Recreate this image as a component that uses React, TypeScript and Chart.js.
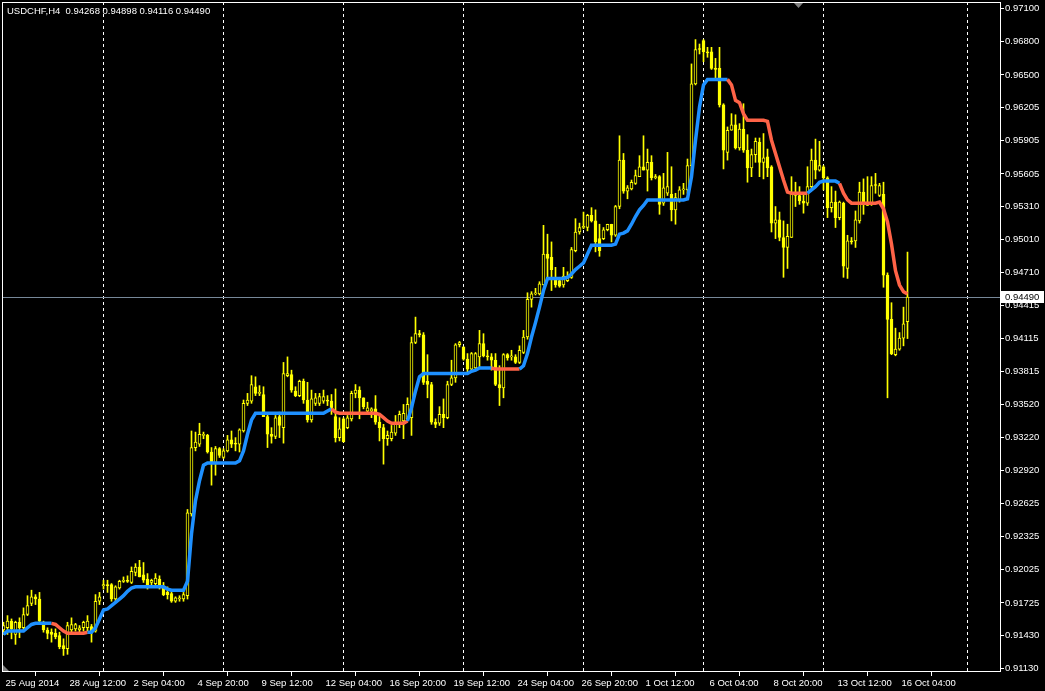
import React, { useEffect, useRef } from 'react';
import { Chart, registerables } from 'chart.js';

Chart.register(...registerables);

// ---- DATA (USDCHF H4, one value per bar) ----
const openP = [
  0.9148,0.9150,0.9156,0.9144,0.9155,0.9150,0.9162,0.9172,0.9178,0.9176,
  0.9153,0.9148,0.9146,0.9145,0.9143,0.9134,0.9131,0.9148,0.9149,0.9148,
  0.9150,0.9150,0.9151,0.9147,0.9174,0.9188,0.9189,0.9189,0.9176,0.9186,
  0.9192,0.9193,0.9191,0.9200,0.9205,0.9198,0.9194,0.9191,0.9190,0.9194,
  0.9187,0.9182,0.9181,0.9174,0.9176,0.9176,0.9179,0.9253,0.9313,0.9316,
  0.9324,0.9324,0.9309,0.9299,0.9312,0.9304,0.9310,0.9320,0.9316,0.9316,
  0.9328,0.9353,0.9355,0.9368,0.9362,0.9361,0.9341,0.9325,0.9323,0.9341,
  0.9331,0.9378,0.9379,0.9364,0.9360,0.9373,0.9356,0.9338,0.9353,0.9353,
  0.9355,0.9356,0.9355,0.9341,0.9322,0.9339,0.9331,0.9339,0.9362,0.9365,
  0.9358,0.9346,0.9346,0.9348,0.9336,0.9331,0.9321,0.9321,0.9326,0.9334,
  0.9337,0.9339,0.9340,0.9408,0.9416,0.9415,0.9373,0.9370,0.9336,0.9335,
  0.9343,0.9340,0.9370,0.9376,0.9406,0.9404,0.9393,0.9384,0.9385,0.9395,
  0.9407,0.9396,0.9395,0.9392,0.9370,0.9367,0.9397,0.9395,0.9395,0.9390,
  0.9399,0.9413,0.9447,0.9452,0.9452,0.9460,0.9488,0.9485,0.9467,0.9464,
  0.9460,0.9464,0.9467,0.9491,0.9508,0.9512,0.9512,0.9523,0.9518,0.9502,
  0.9502,0.9510,0.9515,0.9505,0.9531,0.9573,0.9545,0.9547,0.9552,0.9558,
  0.9567,0.9564,0.9571,0.9557,0.9558,0.9534,0.9543,0.9542,0.9528,0.9537,
  0.9546,0.9546,0.9568,0.9642,0.9673,0.9681,0.9671,0.9671,0.9656,0.9656,
  0.9623,0.9580,0.9600,0.9605,0.9584,0.9601,0.9582,0.9566,0.9578,0.9589,
  0.9571,0.9576,0.9567,0.9516,0.9519,0.9503,0.9494,0.9503,0.9541,0.9541,
  0.9536,0.9534,0.9549,0.9573,0.9564,0.9567,0.9557,0.9530,0.9535,0.9521,
  0.9534,0.9475,0.9500,0.9500,0.9518,0.9544,0.9532,0.9534,0.9550,0.9541,
  0.9542,0.9469,0.9429,0.9397,0.9402,0.9412,0.94268,
];

const highP = [
  0.9155,0.9161,0.9158,0.9156,0.9159,0.9168,0.9179,0.9184,0.9180,0.9182,
  0.9156,0.9150,0.9149,0.9149,0.9146,0.9140,0.9155,0.9159,0.9154,0.9152,
  0.9156,0.9161,0.9153,0.9180,0.9182,0.9193,0.9193,0.9190,0.9188,0.9193,
  0.9196,0.9197,0.9205,0.9208,0.9211,0.9209,0.9199,0.9194,0.9199,0.9197,
  0.9191,0.9187,0.9184,0.9178,0.9179,0.9182,0.9257,0.9328,0.9327,0.9335,
  0.9327,0.9325,0.9313,0.9314,0.9313,0.9312,0.9324,0.9328,0.9322,0.9330,
  0.9356,0.9362,0.9378,0.9377,0.9369,0.9368,0.9344,0.9331,0.9342,0.9345,
  0.9390,0.9395,0.9383,0.9368,0.9374,0.9375,0.9372,0.9365,0.9362,0.9362,
  0.9365,0.9360,0.9361,0.9366,0.9340,0.9340,0.9342,0.9364,0.9370,0.9368,
  0.9358,0.9354,0.9349,0.9360,0.9342,0.9334,0.9328,0.9333,0.9342,0.9346,
  0.9352,0.9358,0.9413,0.9431,0.9419,0.9417,0.9397,0.9372,0.9339,0.9350,
  0.9357,0.9373,0.9392,0.9407,0.9409,0.9404,0.9398,0.9399,0.9399,0.9419,
  0.9416,0.9401,0.9398,0.9398,0.9387,0.9398,0.9398,0.9401,0.9397,0.9405,
  0.9419,0.9453,0.9454,0.9457,0.9463,0.9514,0.9506,0.9499,0.9476,0.9467,
  0.9476,0.9472,0.9494,0.9520,0.9516,0.9526,0.9524,0.9530,0.9528,0.9515,
  0.9512,0.9515,0.9515,0.9532,0.9595,0.9579,0.9550,0.9555,0.9564,0.9577,
  0.9595,0.9583,0.9577,0.9560,0.9559,0.9561,0.9580,0.9567,0.9543,0.9549,
  0.9552,0.9574,0.9660,0.9682,0.9678,0.9682,0.9675,0.9675,0.9665,0.9675,
  0.9624,0.9603,0.9615,0.9614,0.9606,0.9624,0.9596,0.9583,0.9593,0.9593,
  0.9597,0.9583,0.9568,0.9531,0.9526,0.9518,0.9515,0.9558,0.9553,0.9549,
  0.9543,0.9567,0.9583,0.9592,0.9590,0.9568,0.9558,0.9549,0.9545,0.9536,
  0.9535,0.9505,0.9503,0.9527,0.9553,0.9556,0.9558,0.9558,0.9561,0.9552,
  0.9553,0.9471,0.9444,0.9421,0.9417,0.9440,0.94898,
];

const lowP = [
  0.9144,0.9144,0.9140,0.9135,0.9141,0.9147,0.9161,0.9170,0.9171,0.9155,
  0.9146,0.9140,0.9137,0.9140,0.9131,0.9125,0.9126,0.9146,0.9147,0.9146,
  0.9147,0.9147,0.9137,0.9146,0.9171,0.9185,0.9182,0.9174,0.9174,0.9185,
  0.9191,0.9191,0.9190,0.9197,0.9196,0.9191,0.9185,0.9187,0.9188,0.9185,
  0.9179,0.9176,0.9173,0.9173,0.9174,0.9174,0.9176,0.9251,0.9310,0.9314,
  0.9321,0.9308,0.9279,0.9288,0.9304,0.9303,0.9309,0.9313,0.9310,0.9309,
  0.9327,0.9351,0.9353,0.9360,0.9360,0.9341,0.9313,0.9317,0.9321,0.9322,
  0.9317,0.9377,0.9363,0.9359,0.9359,0.9353,0.9336,0.9336,0.9351,0.9351,
  0.9353,0.9351,0.9343,0.9318,0.9319,0.9318,0.9330,0.9337,0.9358,0.9339,
  0.9348,0.9344,0.9340,0.9334,0.9319,0.9298,0.9315,0.9319,0.9324,0.9331,
  0.9321,0.9337,0.9324,0.9407,0.9413,0.9370,0.9358,0.9334,0.9331,0.9333,
  0.9331,0.9339,0.9369,0.9372,0.9404,0.9392,0.9381,0.9382,0.9384,0.9386,
  0.9395,0.9392,0.9383,0.9369,0.9351,0.9358,0.9392,0.9392,0.9389,0.9389,
  0.9398,0.9411,0.9440,0.9451,0.9451,0.9460,0.9467,0.9455,0.9458,0.9458,
  0.9458,0.9463,0.9466,0.9490,0.9506,0.9511,0.9509,0.9517,0.9490,0.9486,
  0.9501,0.9509,0.9499,0.9504,0.9529,0.9543,0.9538,0.9546,0.9551,0.9558,
  0.9564,0.9545,0.9555,0.9556,0.9524,0.9532,0.9541,0.9518,0.9515,0.9535,
  0.9542,0.9543,0.9558,0.9641,0.9669,0.9662,0.9666,0.9655,0.9647,0.9621,
  0.9565,0.9573,0.9600,0.9583,0.9582,0.9580,0.9553,0.9558,0.9571,0.9558,
  0.9556,0.9558,0.9508,0.9502,0.9500,0.9467,0.9475,0.9503,0.9531,0.9533,
  0.9525,0.9532,0.9546,0.9556,0.9563,0.9546,0.9521,0.9526,0.9512,0.9519,
  0.9467,0.9466,0.9497,0.9494,0.9516,0.9524,0.9532,0.9532,0.9543,0.9540,
  0.9458,0.9358,0.9397,0.9396,0.9401,0.9405,0.94116,
];

const closeP = [
  0.9152,0.9156,0.9149,0.9155,0.9150,0.9162,0.9170,0.9178,0.9176,0.9156,
  0.9148,0.9145,0.9144,0.9142,0.9133,0.9131,0.9152,0.9153,0.9153,0.9150,
  0.9155,0.9156,0.9147,0.9174,0.9178,0.9189,0.9188,0.9176,0.9187,0.9192,
  0.9193,0.9192,0.9201,0.9205,0.9196,0.9193,0.9187,0.9193,0.9195,0.9187,
  0.9180,0.9180,0.9174,0.9177,0.9177,0.9180,0.9254,0.9313,0.9318,0.9325,
  0.9325,0.9309,0.9299,0.9312,0.9306,0.9310,0.9320,0.9316,0.9316,0.9329,
  0.9353,0.9356,0.9370,0.9362,0.9363,0.9341,0.9325,0.9323,0.9340,0.9333,
  0.9380,0.9380,0.9365,0.9360,0.9373,0.9356,0.9338,0.9357,0.9358,0.9359,
  0.9359,0.9355,0.9349,0.9322,0.9330,0.9318,0.9340,0.9362,0.9365,0.9358,
  0.9350,0.9349,0.9348,0.9336,0.9331,0.9321,0.9324,0.9327,0.9334,0.9343,
  0.9344,0.9352,0.9408,0.9416,0.9415,0.9372,0.9370,0.9336,0.9334,0.9343,
  0.9340,0.9370,0.9376,0.9406,0.9408,0.9393,0.9384,0.9398,0.9398,0.9407,
  0.9396,0.9395,0.9392,0.9370,0.9367,0.9397,0.9394,0.9396,0.9390,0.9401,
  0.9413,0.9447,0.9452,0.9453,0.9461,0.9488,0.9484,0.9474,0.9460,0.9459,
  0.9468,0.9467,0.9492,0.9508,0.9512,0.9513,0.9523,0.9518,0.9499,0.9491,
  0.9510,0.9515,0.9505,0.9531,0.9573,0.9545,0.9548,0.9553,0.9559,0.9567,
  0.9564,0.9571,0.9557,0.9558,0.9533,0.9548,0.9549,0.9528,0.9539,0.9546,
  0.9547,0.9568,0.9642,0.9673,0.9673,0.9671,0.9670,0.9656,0.9655,0.9623,
  0.9582,0.9600,0.9605,0.9584,0.9601,0.9582,0.9566,0.9578,0.9590,0.9571,
  0.9575,0.9566,0.9516,0.9519,0.9503,0.9494,0.9504,0.9543,0.9544,0.9536,
  0.9534,0.9549,0.9573,0.9564,0.9568,0.9557,0.9530,0.9535,0.9521,0.9535,
  0.9477,0.9500,0.9499,0.9519,0.9544,0.9534,0.9535,0.9550,0.9550,0.9550,
  0.9469,0.9429,0.9398,0.9402,0.9412,0.9425,0.94490,
];

const trendLine = [
  0.9144,0.9147,0.9147,0.9147,0.9147,0.9147,0.9150,0.9153,0.9154,0.9154,
  0.9154,0.9154,0.9154,0.9153,0.9150,0.9147,0.9145,0.9145,0.9145,0.9145,
  0.9145,0.9146,0.9146,0.9150,0.9158,0.9166,0.9167,0.9170,0.9173,0.9176,
  0.9179,0.9183,0.9186,0.9187,0.9187,0.9187,0.9187,0.9187,0.9187,0.9187,
  0.9187,0.9185,0.9184,0.9184,0.9184,0.9184,0.9192,0.9235,0.9265,0.9283,
  0.9297,0.9299,0.9299,0.9299,0.9299,0.9299,0.9299,0.9299,0.9299,0.9301,
  0.9310,0.9325,0.9338,0.9344,0.9344,0.9344,0.9344,0.9344,0.9344,0.9344,
  0.9344,0.9344,0.9344,0.9344,0.9344,0.9344,0.9344,0.9344,0.9344,0.9344,
  0.9344,0.9346,0.9348,0.9345,0.9344,0.9344,0.9344,0.9344,0.9344,0.9344,
  0.9344,0.9344,0.9344,0.9344,0.9343,0.9340,0.9337,0.9335,0.9335,0.9335,
  0.9335,0.9337,0.9349,0.9364,0.9377,0.9380,0.9380,0.9380,0.9380,0.9380,
  0.9380,0.9380,0.9380,0.9380,0.9380,0.9380,0.9380,0.9382,0.9383,0.9385,
  0.9385,0.9385,0.9385,0.9384,0.9384,0.9384,0.9384,0.9384,0.9384,0.9384,
  0.9387,0.9398,0.9413,0.9426,0.9440,0.9455,0.9466,0.9466,0.9466,0.9466,
  0.9466,0.9467,0.9470,0.9474,0.9477,0.9480,0.9488,0.9496,0.9496,0.9496,
  0.9496,0.9496,0.9496,0.9497,0.9506,0.9507,0.9509,0.9515,0.9522,0.9528,
  0.9532,0.9537,0.9537,0.9537,0.9537,0.9537,0.9537,0.9537,0.9537,0.9537,
  0.9537,0.9538,0.9558,0.9591,0.9621,0.9641,0.9646,0.9646,0.9646,0.9646,
  0.9646,0.9646,0.9641,0.9627,0.9625,0.9615,0.9609,0.9609,0.9609,0.9609,
  0.9609,0.9608,0.9591,0.9579,0.9567,0.9555,0.9544,0.9543,0.9543,0.9543,
  0.9543,0.9543,0.9546,0.9549,0.9553,0.9554,0.9554,0.9554,0.9554,0.9552,
  0.9543,0.9537,0.9534,0.9534,0.9534,0.9534,0.9534,0.9534,0.9534,0.9535,
  0.9529,0.9517,0.9497,0.9473,0.9460,0.9454,0.9452,
];

// bar ranges (segment start index) where the line is drawn in the "down" colour
const downRanges = [[12, 20], [82, 100], [122, 128], [181, 200], [209, 225]];

const xTickIdx = [0, 16, 32, 48, 64, 80, 96, 112, 128, 144, 160, 176, 192, 208, 224];
const xTickLabels = [
  '25 Aug 2014', '28 Aug 12:00', '2 Sep 04:00', '4 Sep 20:00', '9 Sep 12:00',
  '12 Sep 04:00', '16 Sep 20:00', '19 Sep 12:00', '24 Sep 04:00', '26 Sep 20:00',
  '1 Oct 12:00', '6 Oct 04:00', '8 Oct 20:00', '13 Oct 12:00', '16 Oct 04:00',
];
const weekSeparatorIdx = [25, 55, 85, 115, 145, 175, 205, 241];
const yTicks = [
  0.971, 0.968, 0.965, 0.96205, 0.95905, 0.95605, 0.9531, 0.9501, 0.9471, 0.94415,
  0.94115, 0.93815, 0.9352, 0.9322, 0.9292, 0.92625, 0.92325, 0.92025, 0.91725, 0.9143, 0.9113,
];
const bidPrice = 0.9449;
const titleText = 'USDCHF,H4  0.94268 0.94898 0.94116 0.94490';

// ---- STYLE ----
const YELLOW = '#FFFF00';
const BLUE = '#1E90FF';
const RED = '#FF6347';
const FONT_FAMILY = "'Liberation Sans', Arial, sans-serif";
const FONT_SIZE = 9.5;

function isDown(i: number) {
  return downRanges.some(([a, b]) => i >= a && i <= b);
}

const mt4Plugin = {
  id: 'mt4Decor',
  beforeDraw(chart: any) {
    const { ctx, width, height } = chart;
    ctx.save();
    ctx.fillStyle = '#000';
    ctx.fillRect(0, 0, width, height);
    ctx.restore();
  },
  beforeDatasetsDraw(chart: any) {
    const { ctx, chartArea: a, scales } = chart;
    const x = scales.x;
    const y = scales.y;
    ctx.save();
    ctx.strokeStyle = '#FFFFFF';
    ctx.lineWidth = 1;
    ctx.setLineDash([3, 3]);
    weekSeparatorIdx.forEach((v) => {
      const px = Math.floor(x.getPixelForValue(v)) + 0.5;
      ctx.beginPath();
      ctx.moveTo(px, a.top);
      ctx.lineTo(px, a.bottom);
      ctx.stroke();
    });
    ctx.setLineDash([]);
    const by = Math.round(y.getPixelForValue(bidPrice)) + 0.5;
    ctx.strokeStyle = '#778899';
    ctx.beginPath();
    ctx.moveTo(a.left, by);
    ctx.lineTo(a.right, by);
    ctx.stroke();
    ctx.restore();
  },
  afterDraw(chart: any) {
    const { ctx, chartArea: a, scales } = chart;
    const y = scales.y;
    ctx.save();
    // frame
    ctx.strokeStyle = '#FFFFFF';
    ctx.lineWidth = 1;
    ctx.strokeRect(a.left + 0.5, a.top + 0.5, a.right - a.left, a.bottom - a.top - 1);
    // title
    ctx.font = `${FONT_SIZE}px ${FONT_FAMILY}`;
    ctx.fillStyle = '#FFFFFF';
    ctx.textBaseline = 'middle';
    ctx.textAlign = 'left';
    ctx.fillText(titleText, 7, 11);
    // bid price label
    const by = Math.round(y.getPixelForValue(bidPrice));
    ctx.fillStyle = '#FFFFFF';
    ctx.fillRect(a.right + 1, by - 6, 43, 12);
    ctx.fillStyle = '#000000';
    ctx.fillText(bidPrice.toFixed(5), a.right + 5, by + 0.5);
    // shift marker and scroll marker
    ctx.fillStyle = '#808080';
    ctx.beginPath();
    ctx.moveTo(794, a.top + 1);
    ctx.lineTo(803, a.top + 1);
    ctx.lineTo(798.5, a.top + 6);
    ctx.closePath();
    ctx.fill();
    ctx.beginPath();
    ctx.moveTo(a.left + 1, a.bottom - 7);
    ctx.lineTo(a.left + 1, a.bottom - 1);
    ctx.lineTo(a.left + 7, a.bottom - 1);
    ctx.closePath();
    ctx.fill();
    ctx.restore();
  },
};

export default function App() {
  const ref = useRef<HTMLCanvasElement>(null);

  useEffect(() => {
    document.body.style.margin = '0';
    document.body.style.background = '#000';
    const idx = closeP.map((_, i) => i);
    const bodies = idx.map((i) => ({ x: i, y: [openP[i], closeP[i]] }));
    const wicks = idx.map((i) => ({ x: i, y: [lowP[i], highP[i]] }));
    const line = idx.map((i) => ({ x: i, y: trendLine[i] }));
    const font = { family: FONT_FAMILY, size: FONT_SIZE };

    const chart = new Chart(ref.current as HTMLCanvasElement, {
      type: 'bar',
      data: {
        datasets: [
          {
            type: 'line',
            data: line,
            order: 0,
            borderColor: BLUE,
            borderWidth: 3.5,
            pointRadius: 0,
            tension: 0,
            segment: {
              borderColor: (c: any) => (isDown(c.p0DataIndex) ? RED : BLUE),
            },
          } as any,
          {
            type: 'bar',
            data: bodies,
            order: 1,
            grouped: false,
            barThickness: 3,
            borderWidth: 1,
            borderSkipped: false,
            minBarLength: 1,
            borderColor: YELLOW,
            backgroundColor: (c: any) =>
              closeP[c.dataIndex] > openP[c.dataIndex] ? '#000000' : YELLOW,
          } as any,
          {
            type: 'bar',
            data: wicks,
            order: 2,
            grouped: false,
            barThickness: 1,
            borderWidth: 0,
            backgroundColor: YELLOW,
          } as any,
        ],
      },
      options: {
        responsive: false,
        devicePixelRatio: 1,
        animation: false,
        events: [],
        layout: { padding: { left: 2, top: 2, right: 0, bottom: 0 } },
        plugins: { legend: { display: false }, tooltip: { enabled: false } },
        scales: {
          x: {
            type: 'linear',
            min: -0.375,
            max: 249.125,
            offset: false,
            bounds: 'data',
            afterBuildTicks: (s: any) => {
              s.ticks = xTickIdx.map((v) => ({ value: v }));
            },
            afterFit: (s: any) => {
              s.height = 19;
              s.paddingLeft = 0;
              s.paddingRight = 0;
            },
            ticks: {
              autoSkip: false,
              maxRotation: 0,
              minRotation: 0,
              align: 'start',
              padding: 2,
              labelOffset: 2,
              color: '#FFFFFF',
              font,
              callback: (_v: any, i: number) => xTickLabels[i],
            },
            grid: {
              drawOnChartArea: false,
              drawTicks: true,
              tickLength: 4,
              tickColor: '#FFFFFF',
              color: '#FFFFFF',
            },
            border: { display: false },
          },
          y: {
            type: 'linear',
            position: 'right',
            min: 0.911,
            max: 0.9716,
            bounds: 'data',
            afterBuildTicks: (s: any) => {
              s.ticks = yTicks.map((v) => ({ value: v }));
            },
            afterFit: (s: any) => {
              s.width = 45;
              s.paddingTop = 0;
              s.paddingBottom = 0;
            },
            ticks: {
              autoSkip: false,
              padding: 1,
              color: '#FFFFFF',
              font,
              callback: (v: any) => Number(v).toFixed(5),
            },
            grid: {
              drawOnChartArea: false,
              drawTicks: true,
              tickLength: 4,
              tickColor: '#FFFFFF',
              color: '#FFFFFF',
            },
            border: { display: false },
          },
        },
      } as any,
      plugins: [mt4Plugin],
    });
    return () => chart.destroy();
  }, []);

  return (
    <div style={{ width: 1045, height: 691, background: '#000' }}>
      <canvas ref={ref} width={1045} height={691} style={{ display: 'block' }} />
    </div>
  );
}
